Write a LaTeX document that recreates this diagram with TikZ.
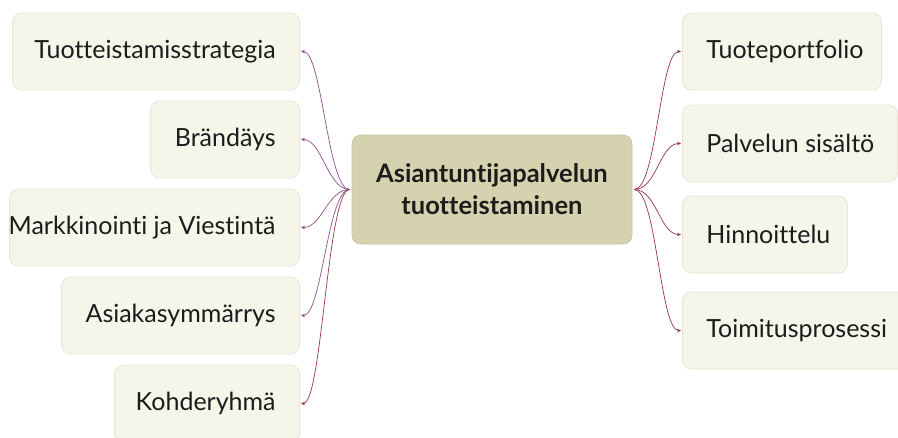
\documentclass[tikz,border=0pt]{standalone}
\usepackage{fontspec}
\setmainfont{Lato}[Ligatures=CommonOff]
\usetikzlibrary{arrows.meta}
\definecolor{leaffill}{HTML}{F6F5EA}
\definecolor{leafline}{HTML}{E6E5D6}
\definecolor{hubfill}{HTML}{D5D3AF}
\definecolor{hubline}{HTML}{C8C6A2}
\definecolor{ink}{HTML}{1C1C1C}
\definecolor{plum}{HTML}{8C4F8E}
\definecolor{wine}{HTML}{973540}
% fixed-width label, flush right or flush left
\newcommand{\rlabel}[2]{\makebox[#1][r]{#2}}
\newcommand{\llabel}[2]{\makebox[#1][l]{#2}}
\begin{document}
\begin{tikzpicture}[x=1pt,y=-1pt,
  leaf/.style={draw=leafline, fill=leaffill, rounded corners=9pt, line width=0.8pt,
    minimum height=77pt, inner xsep=24pt, inner ysep=0pt, text=ink,
    font=\fontsize{25}{30}\selectfont},
  leafL/.style={leaf, anchor=east},
  leafR/.style={leaf, anchor=west},
  hubbox/.style={draw=hubline, fill=hubfill, rounded corners=9pt, line width=0.8pt,
    minimum width=280pt, minimum height=109pt, align=center, text=ink,
    font=\fontsize{25.5}{32}\selectfont\bfseries},
  conn/.style={line width=0.7pt, shorten >=1pt, -{Stealth[length=4pt,width=3.5pt]}},
  connL/.style={conn, draw=plum},
  connR/.style={conn, draw=wine},
]
\useasboundingbox (0,0) rectangle (898,437);
\clip (0,0) rectangle (898,437);

% central topic
\node[hubbox] (hub) at (492,189.5) {Asiantuntijapalvelun\\tuotteistaminen};

% left branch
\node[leafL] (tstr) at (300,51.5)  {\rlabel{239pt}{Tuotteistamisstrategia}};
\node[leafL] (brand) at (300,139.5) {\rlabel{101pt}{Brändäys}};
\node[leafL] (mark) at (300,227.5) {\rlabel{242pt}{Markkinointi ja Viestintä}};
\node[leafL] (asia) at (300,315.5) {\rlabel{190pt}{Asiakasymmärrys}};
\node[leafL] (kohde) at (300,403.5) {\rlabel{137pt}{Kohderyhmä}};

% right branch
\node[leafR] (port) at (682,51.5)  {\llabel{151pt}{Tuoteportfolio}};
\node[leafR] (sis) at (682,143.5) {\llabel{167pt}{Palvelun sisältö}};
\node[leafR] (hinta) at (682,234.5) {\llabel{117pt}{Hinnoittelu}};
\node[leafR] (toim) at (682,330.5) {\llabel{182pt}{Toimitusprosessi}};

% connectors
\draw[connL] ([xshift=-2pt]hub.west) .. controls +(-22,0) and +(22,0) .. (tstr.east);
\draw[connL] ([xshift=-2pt]hub.west) .. controls +(-22,0) and +(22,0) .. (brand.east);
\draw[connL] ([xshift=-2pt]hub.west) .. controls +(-22,0) and +(22,0) .. (mark.east);
\draw[connL] ([xshift=-2pt]hub.west) .. controls +(-22,0) and +(22,0) .. (asia.east);
\draw[connR] ([xshift=-2pt]hub.west) .. controls +(-22,0) and +(22,0) .. (kohde.east);

\draw[connR] ([xshift=2pt]hub.east) .. controls +(22,0) and +(-22,0) .. (port.west);
\draw[connR] ([xshift=2pt]hub.east) .. controls +(22,0) and +(-22,0) .. (sis.west);
\draw[connR] ([xshift=2pt]hub.east) .. controls +(22,0) and +(-22,0) .. (hinta.west);
\draw[connR] ([xshift=2pt]hub.east) .. controls +(22,0) and +(-22,0) .. (toim.west);
\end{tikzpicture}
\end{document}
